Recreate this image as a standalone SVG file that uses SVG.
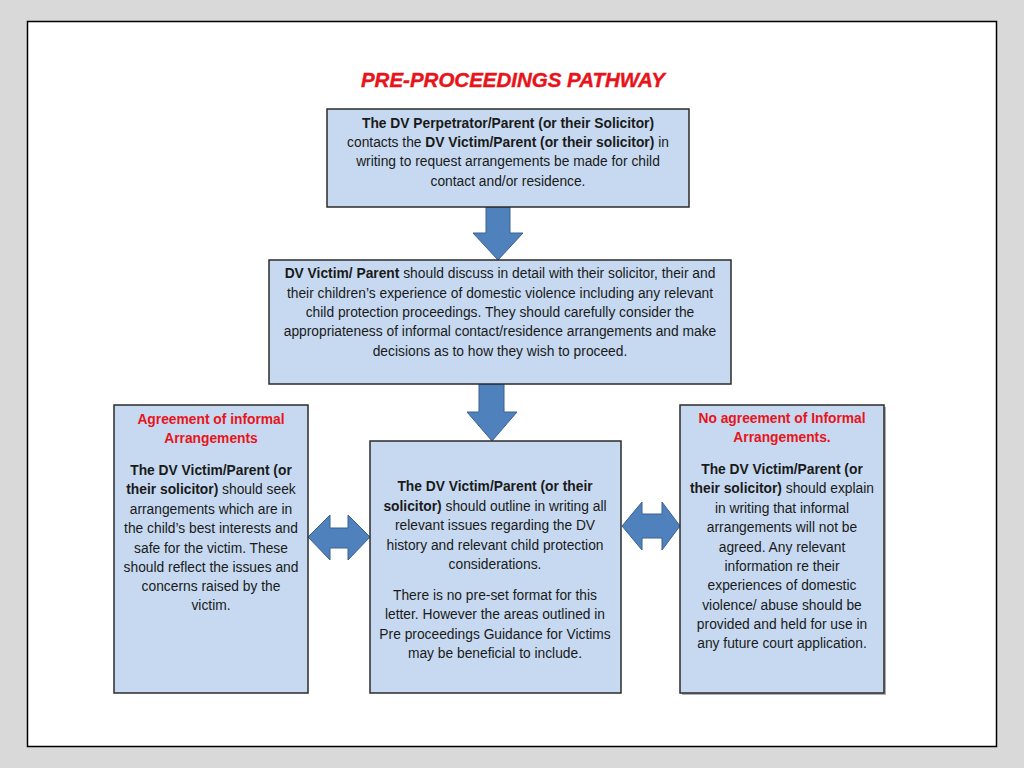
<svg xmlns="http://www.w3.org/2000/svg" width="1024" height="768" viewBox="0 0 1024 768">
<style>
.box{fill:#c6d9f0;stroke:#2b2b2b;stroke-width:1.5}
.arr{fill:#4f81bd;stroke:#3a6190;stroke-width:1}
text{font-family:"Liberation Sans",Arial,sans-serif;font-size:13.8px;fill:#1a1a1a;text-anchor:middle}
.b{font-weight:bold}
.red{fill:#e8141b;font-weight:bold}
.title{font-size:20.5px;font-weight:bold;font-style:italic;fill:#e8141b;stroke:#e8141b;stroke-width:0.4}
</style>
<rect x="0" y="0" width="1024" height="768" fill="#d9d9d9"/>
<rect x="27.5" y="21.5" width="969" height="725" fill="#ffffff" stroke="#000" stroke-width="1.5"/>
<text class="title" x="513" y="87">PRE-PROCEEDINGS PATHWAY</text>

<g id="connectors">
<path class="arr" d="M486,207 L510,207 L510,233 L523,233 L498,260 L473,233 L486,233 Z"/>
<path class="arr" d="M479,384 L504,384 L504,412 L517,412 L492,441 L467,412 L479,412 Z"/>
<path class="arr" d="M308,537 L330,515 L330,528 L348,528 L348,515 L370,537 L348,560 L348,548 L330,548 L330,560 Z"/>
<path class="arr" d="M622,526 L642,502 L642,514 L662,514 L662,502 L680,526 L662,550 L662,538 L642,538 L642,550 Z"/>
</g>

<g id="n1">
<rect class="box" x="327" y="109" width="362" height="98"/>
<text x="508" y="128" class="b">The DV Perpetrator/Parent (or their Solicitor)</text>
<text x="508" y="147">contacts the <tspan class="b">DV Victim/Parent (or their solicitor)</tspan> in</text>
<text x="508" y="166">writing to request arrangements be made for child</text>
<text x="508" y="186">contact and/or residence.</text>
</g>

<g id="n2">
<rect class="box" x="269" y="260" width="462" height="124"/>
<text x="500" y="278"><tspan class="b">DV Victim/ Parent</tspan> should discuss in detail with their solicitor, their and</text>
<text x="500" y="298">their children’s experience of domestic violence including any relevant</text>
<text x="500" y="317">child protection proceedings. They should carefully consider the</text>
<text x="500" y="336">appropriateness of informal contact/residence arrangements and make</text>
<text x="500" y="356">decisions as to how they wish to proceed.</text>
</g>

<g id="n3">
<rect class="box" x="114" y="405" width="194" height="288"/>
<text x="211" y="424" class="red">Agreement of informal</text>
<text x="211" y="443" class="red">Arrangements</text>
<text x="211" y="475" class="b">The DV Victim/Parent (or</text>
<text x="211" y="494"><tspan class="b">their solicitor)</tspan> should seek</text>
<text x="211" y="514">arrangements which are in</text>
<text x="211" y="533">the child’s best interests and</text>
<text x="211" y="553">safe for the victim. These</text>
<text x="211" y="572">should reflect the issues and</text>
<text x="211" y="591">concerns raised by the</text>
<text x="211" y="610">victim.</text>
</g>

<g id="n4">
<rect class="box" x="370" y="441" width="251" height="252"/>
<text x="495" y="491" class="b">The DV Victim/Parent (or their</text>
<text x="495" y="511"><tspan class="b">solicitor)</tspan> should outline in writing all</text>
<text x="495" y="530">relevant issues regarding the DV</text>
<text x="495" y="550">history and relevant child protection</text>
<text x="495" y="569">considerations.</text>
<text x="495" y="600">There is no pre-set format for this</text>
<text x="495" y="619">letter. However the areas outlined in</text>
<text x="495" y="639">Pre proceedings Guidance for Victims</text>
<text x="495" y="658">may be beneficial to include.</text>
</g>

<g id="n5">
<rect x="682" y="407" width="204" height="288" fill="#b0b0b0"/>
<rect class="box" x="680" y="405" width="204" height="288"/>
<text x="782" y="423" class="red">No agreement of Informal</text>
<text x="782" y="442" class="red">Arrangements.</text>
<text x="782" y="474" class="b">The DV Victim/Parent (or</text>
<text x="782" y="493"><tspan class="b">their solicitor)</tspan> should explain</text>
<text x="782" y="513">in writing that informal</text>
<text x="782" y="532">arrangements will not be</text>
<text x="782" y="552">agreed. Any relevant</text>
<text x="782" y="571">information re their</text>
<text x="782" y="590">experiences of domestic</text>
<text x="782" y="610">violence/ abuse should be</text>
<text x="782" y="629">provided and held for use in</text>
<text x="782" y="648">any future court application.</text>
</g>
</svg>
